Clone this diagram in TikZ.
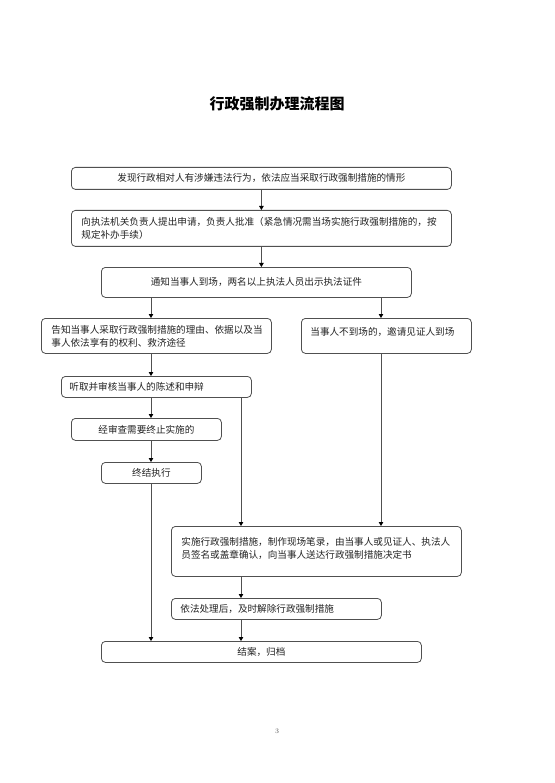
\documentclass[tikz,border=0pt]{standalone}
\usepackage{fontspec}
\usetikzlibrary{arrows.meta,positioning}
\newfontfamily\cjk{Noto Sans CJK SC}
\definecolor{FlowLine}{HTML}{505050}
\definecolor{FlowText}{HTML}{222222}

\begin{document}
\begin{tikzpicture}[
  x=1pt,y=-1pt,
  >=Stealth,
  stage/.style={draw=FlowLine,line width=0.8pt,rounded corners=4pt,
    font=\cjk\fontsize{9.6pt}{13pt}\selectfont,text=FlowText,
    inner xsep=0pt,inner ysep=0pt,anchor=north west},
  stagetext/.style={align=left,text width=#1},
  flow/.style={draw=FlowLine,line width=0.8pt,
    -{Triangle[length=4pt,width=4.5pt,color=black]}},
  heading/.style={font=\cjk\bfseries\fontsize{15pt}{18pt}\selectfont},
  folio/.style={font=\fontsize{7pt}{8pt}\selectfont,text=FlowLine}
]
  \useasboundingbox (0,0) rectangle (554,783);

  % Page title and number.
  \node[heading] (title) at (277,104) {行政强制办理流程图};
  \node[folio] (page) at (277,731) {3};

  % Flow stages, placed at their page positions.
  \node[stage,minimum width=380,minimum height=22] (find) at (71,167)
    {发现行政相对人有涉嫌违法行为，依法应当采取行政强制措施的情形};
  \node[stage,minimum width=380,minimum height=36,stagetext=360,
    inner xsep=10] (apply) at (71,210)
    {向执法机关负责人提出申请，负责人批准（紧急情况需当场实施行政强制措施的，按\\
     规定补办手续）};
  \node[stage,minimum width=310,minimum height=30] (notify) at (101,267)
    {通知当事人到场，两名以上执法人员出示执法证件};
  \node[stage,minimum width=230,minimum height=35,stagetext=210,
    inner xsep=10] (inform) at (41,318)
    {告知当事人采取行政强制措施的理由、依据以及当\\
     事人依法享有的权利、救济途径};
  \node[stage,stagetext=152,inner xsep=9,inner ysep=8.7,
    text height=8.3,text depth=9.3] (absent) at (301,318)
    {当事人不到场的，邀请见证人到场};
  \node[stage,minimum width=190,minimum height=21,stagetext=174,
    inner xsep=8] (hear) at (61,376)
    {听取并审核当事人的陈述和申辩};
  \node[stage,minimum width=150,minimum height=22] (review) at (71,418)
    {经审查需要终止实施的};
  \node[stage,minimum width=100,minimum height=21] (stop) at (101,462)
    {终结执行};
  \node[stage,stagetext=270,inner xsep=10,inner ysep=10.4,
    text height=8.3,text depth=20.9] (enforce) at (171,526)
    {实施行政强制措施，制作现场笔录，由当事人或见证人、执法人\\
     员签名或盖章确认，向当事人送达行政强制措施决定书};
  \node[stage,minimum width=210,minimum height=21,stagetext=192,
    inner xsep=9] (release) at (171,598)
    {依法处理后，及时解除行政强制措施};
  \node[stage,minimum width=320,minimum height=21] (close) at (101,641)
    {结案，归档};

  % Vertical lanes of the connectors.
  \coordinate (laneL) at (151,0);
  \coordinate (laneM) at (241,0);
  \coordinate (laneR) at (381,0);

  \draw[flow] (find.south) -- (apply.north);
  \draw[flow] (apply.south) -- (apply.south |- notify.north);
  \draw[flow] (laneL |- notify.south) -- (laneL |- inform.north);
  \draw[flow] (laneR |- notify.south) -- (laneR |- absent.north);
  \draw[flow] (laneL |- inform.south) -- (laneL |- hear.north);
  \draw[flow] (laneL |- hear.south) -- (laneL |- review.north);
  \draw[flow] (laneL |- review.south) -- (laneL |- stop.north);
  \draw[flow] (laneL |- stop.south) -- (laneL |- close.north);
  \draw[flow] (laneM |- hear.south) -- (laneM |- enforce.north);
  \draw[flow] (laneR |- absent.south) -- (laneR |- enforce.north);
  \draw[flow] (laneM |- enforce.south) -- (laneM |- release.north);
  \draw[flow] (laneM |- release.south) -- (laneM |- close.north);
\end{tikzpicture}
\end{document}
